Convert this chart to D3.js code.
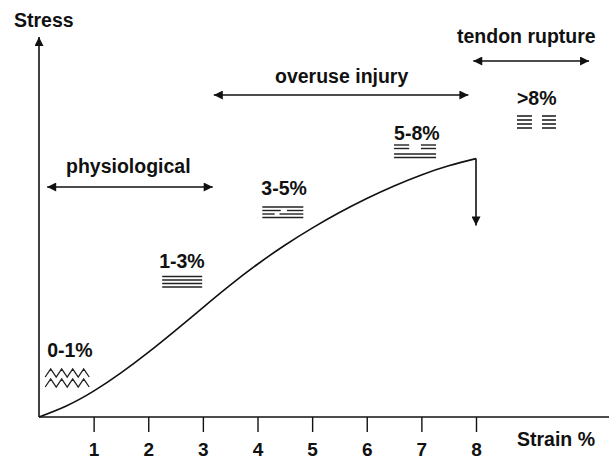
<!DOCTYPE html>
<html>
<head>
<meta charset="utf-8">
<script src="https://cdn.jsdelivr.net/npm/d3@7"></script>
<style>
  body { margin: 0; background: #fff; }
  svg text { font-family: "Liberation Sans", Arial, Helvetica, sans-serif; font-weight: bold; fill: #111; }
</style>
</head>
<body>
<script>
// Courbe contrainte / déformation du tendon
const strain = [0, 0.5, 1, 1.5, 2, 2.5, 3, 3.5, 4, 4.5, 5, 5.5, 6, 6.5, 7, 7.5, 8];
const stress = [0, 2.9, 6.8, 11.6, 17.0, 22.8, 28.8, 34.7, 40.2, 45.2, 49.7, 53.8, 57.5, 60.8, 63.7, 66.1, 68.0];
const ruptureStress = 50.4;       // bout de la flèche de rupture

const strainTicks = [1, 2, 3, 4, 5, 6, 7, 8];

// Zones (en % de déformation)
const zoneLabels = ["physiological", "overuse injury", "tendon rupture"];
const zoneFrom = [0.15, 3.2, 7.95];
const zoneTo = [3.18, 7.86, 10.07];

// Stades des fibres
const stageLabels = ["0-1%", "1-3%", "3-5%", "5-8%", ">8%"];
const stageAt = [0.15, 2.2, 4.07, 6.5, 8.75];

const W = 609, H = 459;
const x0 = 39, y0 = 417;
const FS = 19.5;

const svg = d3.select("body").append("svg")
    .attr("width", W)
    .attr("height", H);

const x = d3.scaleLinear().domain([0, 8]).range([x0, 476]);
const y = d3.scaleLinear().domain([0, 100]).range([y0, 37]);

// têtes de flèches
const defs = svg.append("defs");
defs.append("marker")
    .attr("id", "head")
    .attr("viewBox", "0 0 10 10")
    .attr("refX", 10).attr("refY", 5)
    .attr("markerWidth", 10).attr("markerHeight", 9)
    .attr("markerUnits", "userSpaceOnUse")
    .attr("orient", "auto-start-reverse")
    .append("path")
    .attr("d", "M0,0 L10,5 L0,10 Z")
    .attr("fill", "#111");

// axe des x
svg.append("line")
    .attr("x1", x0).attr("x2", W)
    .attr("y1", y0).attr("y2", y0)
    .attr("stroke", "#111").attr("stroke-width", 1.6);

const xAxis = svg.append("g")
    .attr("transform", `translate(0,${y0})`)
    .call(d3.axisBottom(x).tickValues(strainTicks).tickFormat(d3.format("d"))
        .tickSize(15).tickSizeOuter(0).tickPadding(11));
xAxis.select(".domain").remove();
xAxis.selectAll(".tick line").attr("stroke", "#111").attr("stroke-width", 1.4);
xAxis.selectAll(".tick text")
    .attr("font-size", 19)
    .attr("font-family", null);

svg.append("text")
    .attr("x", 517).attr("y", 446)
    .attr("font-size", FS)
    .text("Strain %");

// axe des y
svg.append("line")
    .attr("x1", x0).attr("x2", x0)
    .attr("y1", y0).attr("y2", y(100))
    .attr("stroke", "#111").attr("stroke-width", 1.6)
    .attr("marker-end", "url(#head)");

svg.append("text")
    .attr("x", 14).attr("y", 27)
    .attr("font-size", FS)
    .text("Stress");

// courbe
const pts = strain.map((s, i) => [s, stress[i]]);
const line = d3.line()
    .x(d => x(d[0]))
    .y(d => y(d[1]))
    .curve(d3.curveNatural);

svg.append("path")
    .datum(pts)
    .attr("d", line)
    .attr("fill", "none")
    .attr("stroke", "#111")
    .attr("stroke-width", 1.6);

// chute à la rupture
const last = strain.length - 1;
svg.append("line")
    .attr("x1", x(strain[last])).attr("x2", x(strain[last]))
    .attr("y1", y(stress[last])).attr("y2", y(ruptureStress))
    .attr("stroke", "#111").attr("stroke-width", 1.6)
    .attr("marker-end", "url(#head)");

// zones avec doubles flèches
const zoneArrowY = [187, 95, 61];
const zoneTextY = [173, 83, 43];
const zoneTextX = [66, 275, 457];
zoneLabels.forEach((lab, i) => {
    svg.append("line")
        .attr("x1", x(zoneFrom[i])).attr("x2", x(zoneTo[i]))
        .attr("y1", zoneArrowY[i]).attr("y2", zoneArrowY[i])
        .attr("stroke", "#111").attr("stroke-width", 1.6)
        .attr("marker-start", "url(#head)")
        .attr("marker-end", "url(#head)");
    svg.append("text")
        .attr("x", zoneTextX[i]).attr("y", zoneTextY[i])
        .attr("font-size", FS)
        .text(lab);
});

// étiquettes des stades
const stageTextY = [357, 268, 195, 140, 105];
stageLabels.forEach((lab, i) => {
    svg.append("text")
        .attr("x", x(stageAt[i])).attr("y", stageTextY[i])
        .attr("font-size", FS)
        .text(lab);
});

// petits dessins de fibres
const g = svg.append("g").attr("stroke", "#222").attr("fill", "none");

function rows(x1, w, ys, segs, sw) {
    ys.forEach((yy, r) => {
        segs[r].forEach(s => {
            g.append("line")
                .attr("x1", x1 + s[0] * w).attr("x2", x1 + s[1] * w)
                .attr("y1", yy).attr("y2", yy)
                .attr("stroke-width", sw);
        });
    });
}

// 0-1% : fibres ondulées
(function () {
    const xs = x(stageAt[0]) - 2, w = 44, n = 4;
    [369, 379].forEach(top => {
        const p = d3.path();
        p.moveTo(xs, top + 8);
        for (let k = 0; k < n; k++) {
            const a = xs + k * w / n;
            p.lineTo(a + w / n / 2, top);
            p.lineTo(a + w / n, top + 8);
        }
        g.append("path").attr("d", p.toString()).attr("stroke-width", 1.3);
    });
})();

// 1-3% : fibres droites
rows(x(stageAt[1]) + 3, 40, [276.5, 280, 283.5, 287],
    [[[0, 1]], [[0, 1]], [[0, 1]], [[0, 1]]], 1.4);

// 3-5% : premières ruptures
rows(x(stageAt[2]) + 1, 41, [207, 210.5, 214, 217.5],
    [[[0, 1]], [[0, 0.45], [0.6, 1]], [[0, 0.3], [0.42, 1]], [[0, 1]]], 1.4);

// 5-8% : ruptures plus nombreuses
rows(x(stageAt[3]), 42, [145, 148.5, 154, 157.5],
    [[[0, 0.36], [0.64, 1]], [[0, 0.36], [0.64, 1]], [[0, 1]], [[0, 1]]], 1.4);

// >8% : rupture complète
rows(x(stageAt[4]), 15, [116, 120, 124, 128],
    [[[0, 1]], [[0, 1]], [[0, 1]], [[0, 1]]], 1.6);
rows(x(stageAt[4]) + 25, 14, [116, 120, 124, 128],
    [[[0, 1]], [[0, 1]], [[0, 1]], [[0, 1]]], 1.6);
</script>
</body>
</html>
